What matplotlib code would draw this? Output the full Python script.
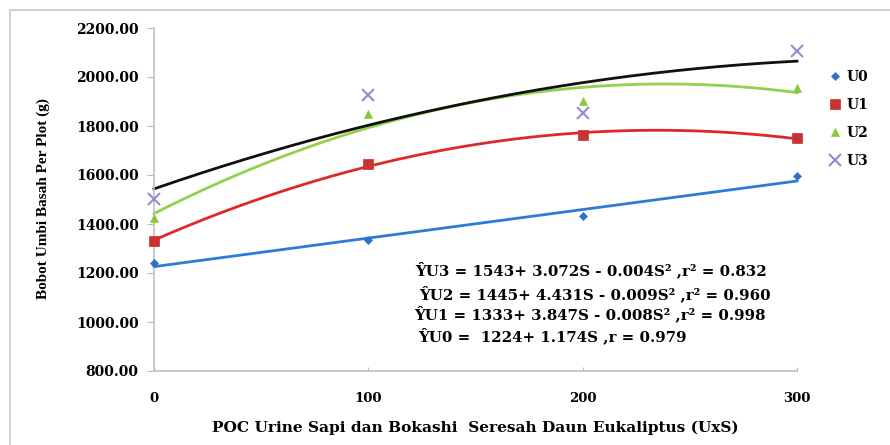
import numpy as np
import matplotlib
matplotlib.use("Agg")
import matplotlib.pyplot as plt
from matplotlib.patches import Rectangle

# Data
doses = [0, 100, 200, 300]
series_names = ["U0", "U1", "U2", "U3"]
u0 = [1240, 1335, 1432, 1596]
u1 = [1331, 1645, 1763, 1751]
u2 = [1424, 1849, 1902, 1955]
u3 = [1502, 1927, 1853, 2106]
y_ticks = [800, 1000, 1200, 1400, 1600, 1800, 2000, 2200]
x_ticks = [0, 100, 200, 300]
equations = [
    "ŶU3 = 1543+ 3.072S - 0.004S² ,r² = 0.832",
    "ŶU2 = 1445+ 4.431S - 0.009S² ,r² = 0.960",
    "ŶU1 = 1333+ 3.847S - 0.008S² ,r² = 0.998",
    "ŶU0 =  1224+ 1.174S ,r = 0.979",
]

WIDE = ['DejaVu Serif']
NARROW = ['Liberation Serif', 'DejaVu Serif']
plt.rcParams['font.family'] = WIDE
plt.rcParams['font.weight'] = 'bold'

fig = plt.figure(figsize=(8.9, 4.45), dpi=100)
fig.patches.append(Rectangle((10/890, -0.1), 1.0, 1 - 10/445 + 0.1, transform=fig.transFigure,
                             fill=False, edgecolor='#c8c8c8', linewidth=1.2))
ax = fig.add_axes([154/890, 1 - 371/445, (797 - 154)/890, (371 - 28)/445])

marker_colors = ['#2e73c8', '#c83232', '#8cc83c', '#9a8ad0']
line_colors = ['#2e7ad6', '#e02828', '#92d050', '#111111']
markers = ['D', 's', '^', 'x']
msizes = [4, 7, 6, 8]
degrees = [1, 2, 2, 2]
data = [u0, u1, u2, u3]

xs = np.linspace(0, 300, 200)
x_arr = np.array(doses, dtype=float)
for i, vals in enumerate(data):
    coef = np.polyfit(x_arr, np.array(vals, dtype=float), degrees[i])
    ax.plot(xs, np.polyval(coef, xs), color=line_colors[i], lw=2.0, zorder=2, clip_on=False)
for i, (vals, name) in enumerate(zip(data, series_names)):
    ax.plot(doses, vals, linestyle='none', marker=markers[i], color=marker_colors[i],
            markersize=msizes[i], markeredgewidth=1.5 if markers[i] == 'x' else 0.5,
            label=name, zorder=3, clip_on=False)

ax.set_xlim(0, 300)
ax.set_ylim(800, 2200)
ax.set_xticks(x_ticks)
ax.set_yticks(y_ticks)
ax.set_yticklabels([f"{v:.2f}" for v in y_ticks])
ax.tick_params(axis='y', direction='out', length=5, color='#bbbbbb', labelsize=10, pad=6)
ax.tick_params(axis='x', direction='in', length=3, color='#bbbbbb', labelsize=9.5, pad=15)
for lab in ax.get_xticklabels() + ax.get_yticklabels():
    lab.set_fontweight('bold')
for s in ['top', 'right']:
    ax.spines[s].set_visible(False)
for s in ['left', 'bottom']:
    ax.spines[s].set_color('#c0c0c0')
    ax.spines[s].set_linewidth(1.2)

fig.text(43/890, 1 - 199/445, "Bobot Umbi Basah Per Plot (g)", rotation=90,
         fontsize=11, fontweight='bold', family=NARROW, ha='center', va='center')
fig.text(475/890, 1 - 428/445, "POC Urine Sapi dan Bokashi  Seresah Daun Eukaliptus (UxS)",
         fontsize=11.1, fontweight='bold', ha='center', va='center')

eq_pos = [(415, 270), (419, 294), (414, 314), (418, 336)]
for txt, (px, py) in zip(equations, eq_pos):
    fig.text(px/890, 1 - py/445, txt, fontsize=10.8, fontweight='bold', va='center', ha='left')

leg = ax.legend(loc='upper left', bbox_to_anchor=(822/890, 1 - 63/445),
                bbox_transform=fig.transFigure, frameon=False, fontsize=10,
                handlelength=0.8, handletextpad=0.5, labelspacing=1.0, borderpad=0)

fig.savefig("out.png", dpi=100)
